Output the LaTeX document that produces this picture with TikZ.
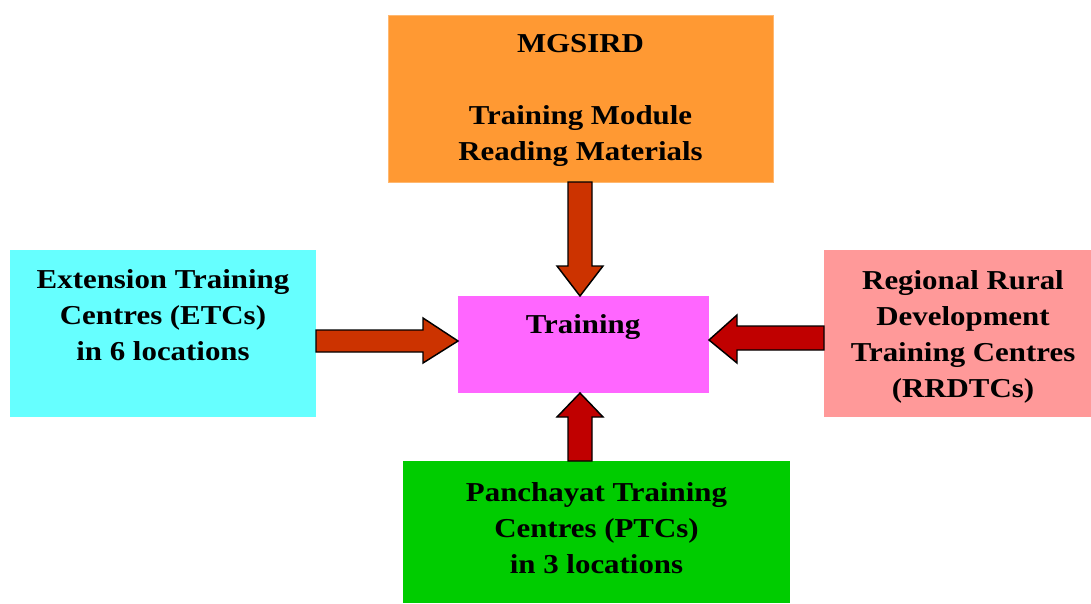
\documentclass[tikz,border=0pt]{standalone}
\usepackage{fontspec}
\setmainfont[FakeStretch=1.13]{Liberation Serif}
\definecolor{cOrange}{HTML}{FF9933}
\definecolor{cCyan}{HTML}{66FFFF}
\definecolor{cMag}{HTML}{FF66FF}
\definecolor{cPink}{HTML}{FF9999}
\definecolor{cGreen}{HTML}{00CC00}
\definecolor{cArrA}{HTML}{CC3300}
\definecolor{cArrB}{HTML}{C00000}
\tikzset{
  box/.style={inner sep=0pt, align=center, text=black,
    font=\bfseries\fontsize{20.5}{27}\selectfont},
  arr/.style={draw=black, line width=1.1pt, line join=miter},
}
\begin{document}
\begin{tikzpicture}[x=0.75pt,y=-0.75pt]
\useasboundingbox (0,0) rectangle (1091,603);
% boxes
\fill[cOrange] (388,15) rectangle (773,182);
\draw[cOrange!70!white, line width=0.6pt] (388,15) rectangle (773,182);
\fill[cCyan] (10,250) rectangle (316,417);
\fill[cMag] (458,296) rectangle (709,393);
\fill[cPink] (824,250) rectangle (1091,417);
\fill[cGreen] (403,461) rectangle (790,603);
% texts
\node[box] (mg) at (580.5,100) {MGSIRD\\\mbox{}\\Training Module\\Reading Materials};
\node[box] (etc) at (163,315) {Extension Training\\Centres (ETCs)\\in 6 locations};
\node[box] (tr) at (583,327) {Training};
\node[box] (rr) at (963,337) {Regional Rural\\Development\\Training Centres\\(RRDTCs)};
\node[box] (ptc) at (596.5,528) {Panchayat Training\\Centres (PTCs)\\in 3 locations};
% arrows
\draw[arr, fill=cArrA] (568,182) -- (592,182) -- (592,266) -- (603,266) -- (580,296) -- (557,266) -- (568,266) -- cycle;
\draw[arr, fill=cArrA] (316,330) -- (423,330) -- (423,318) -- (458,341) -- (423,363) -- (423,352) -- (316,352) -- cycle;
\draw[arr, fill=cArrB] (824,326) -- (737,326) -- (737,315) -- (709,340) -- (737,363) -- (737,350) -- (824,350) -- cycle;
\draw[arr, fill=cArrB] (568,461) -- (568,417) -- (557,417) -- (580,393) -- (603,417) -- (592,417) -- (592,461) -- cycle;
\end{tikzpicture}
\end{document}
